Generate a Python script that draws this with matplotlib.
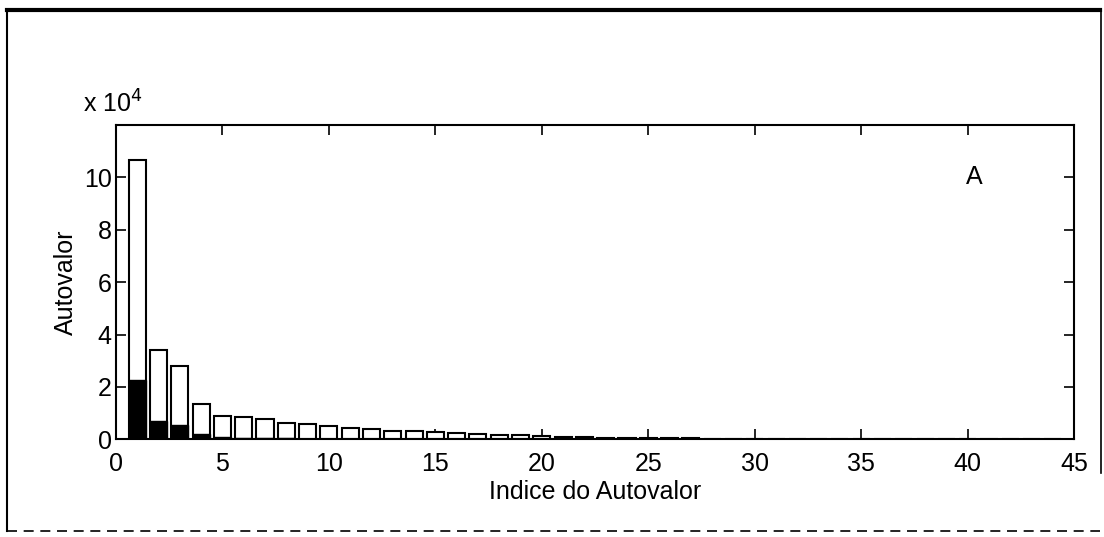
import matplotlib
matplotlib.use("Agg")
import matplotlib.pyplot as plt
from matplotlib.lines import Line2D

# Autovalores (x 10^4): total e parte escura sobreposta
indices = list(range(1, 45))
total = [10.65, 3.42, 2.80, 1.35, 0.88, 0.85, 0.77, 0.62, 0.57, 0.50,
         0.42, 0.38, 0.33, 0.30, 0.27, 0.24, 0.21, 0.18, 0.15, 0.13,
         0.10, 0.08, 0.06, 0.05, 0.04, 0.035, 0.03, 0.025, 0.02, 0.018,
         0.016, 0.014, 0.012, 0.011, 0.01, 0.009, 0.008, 0.007, 0.006, 0.006,
         0.005, 0.005, 0.004, 0.004]
escuro = [2.25, 0.68, 0.55, 0.20, 0.08, 0.05, 0.04, 0.03, 0.02, 0.02,
          0.01, 0.01, 0.01, 0.01, 0.01, 0.01, 0.01, 0.01, 0.01, 0.01,
          0.0, 0.0, 0.0, 0.0, 0.0, 0.0, 0.0, 0.0, 0.0, 0.0,
          0.0, 0.0, 0.0, 0.0, 0.0, 0.0, 0.0, 0.0, 0.0, 0.0,
          0.0, 0.0, 0.0, 0.0]
xticks = [0, 5, 10, 15, 20, 25, 30, 35, 40, 45]
yticks = [0, 2, 4, 6, 8, 10]

plt.rcParams["font.family"] = ["Liberation Sans", "DejaVu Sans"]

fig = plt.figure(figsize=(11.04, 5.37), dpi=100, facecolor="white")
ax = fig.add_axes([0.105, 0.182, 0.868, 0.585])

ax.bar(indices, total, width=0.8, color="white", edgecolor="black", linewidth=1.5, zorder=2)
ax.bar(indices, escuro, width=0.8, color="black", edgecolor="black", linewidth=1.0, zorder=3)

ax.set_xlim(0, 45)
ax.set_ylim(0, 12)
ax.set_xticks(xticks)
ax.set_yticks(yticks)
ax.tick_params(direction="in", length=7, width=1.2, labelsize=18, top=True, right=True)
ax.tick_params(axis="x", pad=9)
ax.tick_params(axis="y", pad=3)
for s in ax.spines.values():
    s.set_linewidth(1.5)

ax.set_xlabel("Indice do Autovalor", fontsize=18, labelpad=3)
ax.set_ylabel("Autovalor", fontsize=18, labelpad=4)
ax.text(-0.003, 1.025, r"x 10$^{4}$", transform=ax.transAxes, fontsize=18, ha="center", va="bottom")
ax.text(40.3, 10.0, "A", fontsize=18, ha="center", va="center")

# moldura externa da figura
fig.add_artist(Line2D([0.006, 0.996], [0.982, 0.982], color="black", lw=3, transform=fig.transFigure))
fig.add_artist(Line2D([0.006, 0.006], [0.012, 0.982], color="black", lw=1.5, transform=fig.transFigure))
fig.add_artist(Line2D([0.997, 0.997], [0.12, 0.982], color="black", lw=1.2, transform=fig.transFigure))
fig.add_artist(Line2D([0.006, 0.996], [0.012, 0.012], color="black", lw=1.2, ls=(0, (6, 4)),
                      transform=fig.transFigure))

fig.savefig("out.png", dpi=100, facecolor="white")
